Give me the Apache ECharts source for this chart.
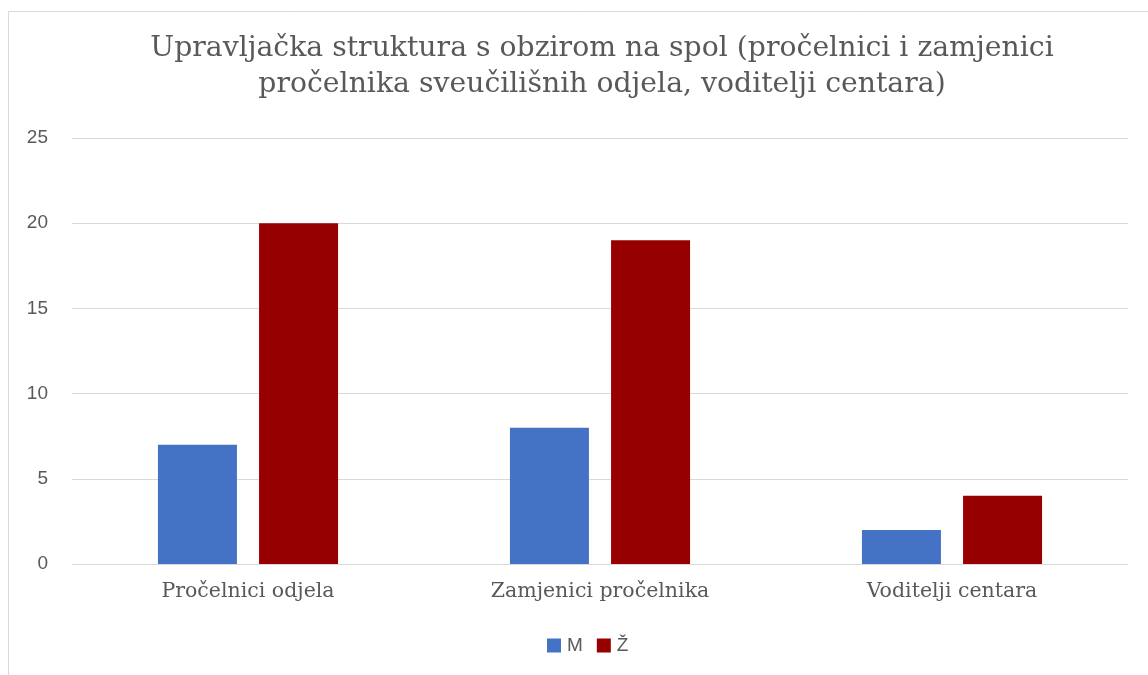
<!DOCTYPE html>
<html>
<head>
<meta charset="utf-8">
<script src="https://cdn.jsdelivr.net/npm/echarts@6/dist/echarts.min.js"></script>
<style>
  html, body { margin: 0; padding: 0; background: #fff; }
  #chart { width: 1148px; height: 675px; }
</style>
</head>
<body>
<div id="chart"></div>
<script>
// data
const categories = ["Pročelnici odjela", "Zamjenici pročelnika", "Voditelji centara"];
const seriesNames = ["M", "Ž"];
const valuesM = [7, 8, 2];
const valuesZ = [20, 19, 4];
const colors = ["#4472c4", "#960000"];

const chart = echarts.init(document.getElementById("chart"));

chart.setOption({
  animation: false,
  color: colors,
  title: {
    text: "Upravljačka struktura s obzirom na spol (pročelnici i zamjenici\npročelnika sveučilišnih odjela, voditelji centara)",
    left: 597,
    textAlign: "center",
    top: 26,
    textStyle: {
      fontFamily: "DejaVu Serif",
      fontSize: 28.3,
      fontWeight: "normal",
      color: "#595959",
      lineHeight: 36
    }
  },
  grid: { left: 72, right: 20, top: 138, bottom: 111, containLabel: false },
  legend: {
    data: seriesNames,
    bottom: 15,
    left: 542,
    itemWidth: 14,
    itemHeight: 14,
    itemGap: 14,
    icon: "rect",
    textStyle: { fontFamily: "Liberation Sans", fontSize: 19, color: "#595959", padding: [0, 0, 0, 1] }
  },
  xAxis: {
    type: "category",
    data: categories,
    axisLine: { lineStyle: { color: "#d9d9d9", width: 1 } },
    axisTick: { show: false },
    axisLabel: { fontFamily: "DejaVu Serif", fontSize: 20.5, color: "#595959", margin: 17 }
  },
  yAxis: {
    type: "value",
    min: 0,
    max: 25,
    interval: 5,
    axisLine: { show: false },
    axisTick: { show: false },
    splitLine: { lineStyle: { color: "#d9d9d9", width: 1 } },
    axisLabel: { fontFamily: "Liberation Sans", fontSize: 19, color: "#595959", margin: 24 }
  },
  series: [
    { name: seriesNames[0], type: "bar", data: valuesM, barWidth: 79, barGap: "28%" },
    { name: seriesNames[1], type: "bar", data: valuesZ, barWidth: 79, barGap: "28%" }
  ],
  graphic: [{
    type: "rect",
    shape: { x: 8.5, y: 11.5, width: 1300, height: 800 },
    style: { fill: null, stroke: "#d9d9d9", lineWidth: 1 },
    silent: true
  }]
});
</script>
</body>
</html>
